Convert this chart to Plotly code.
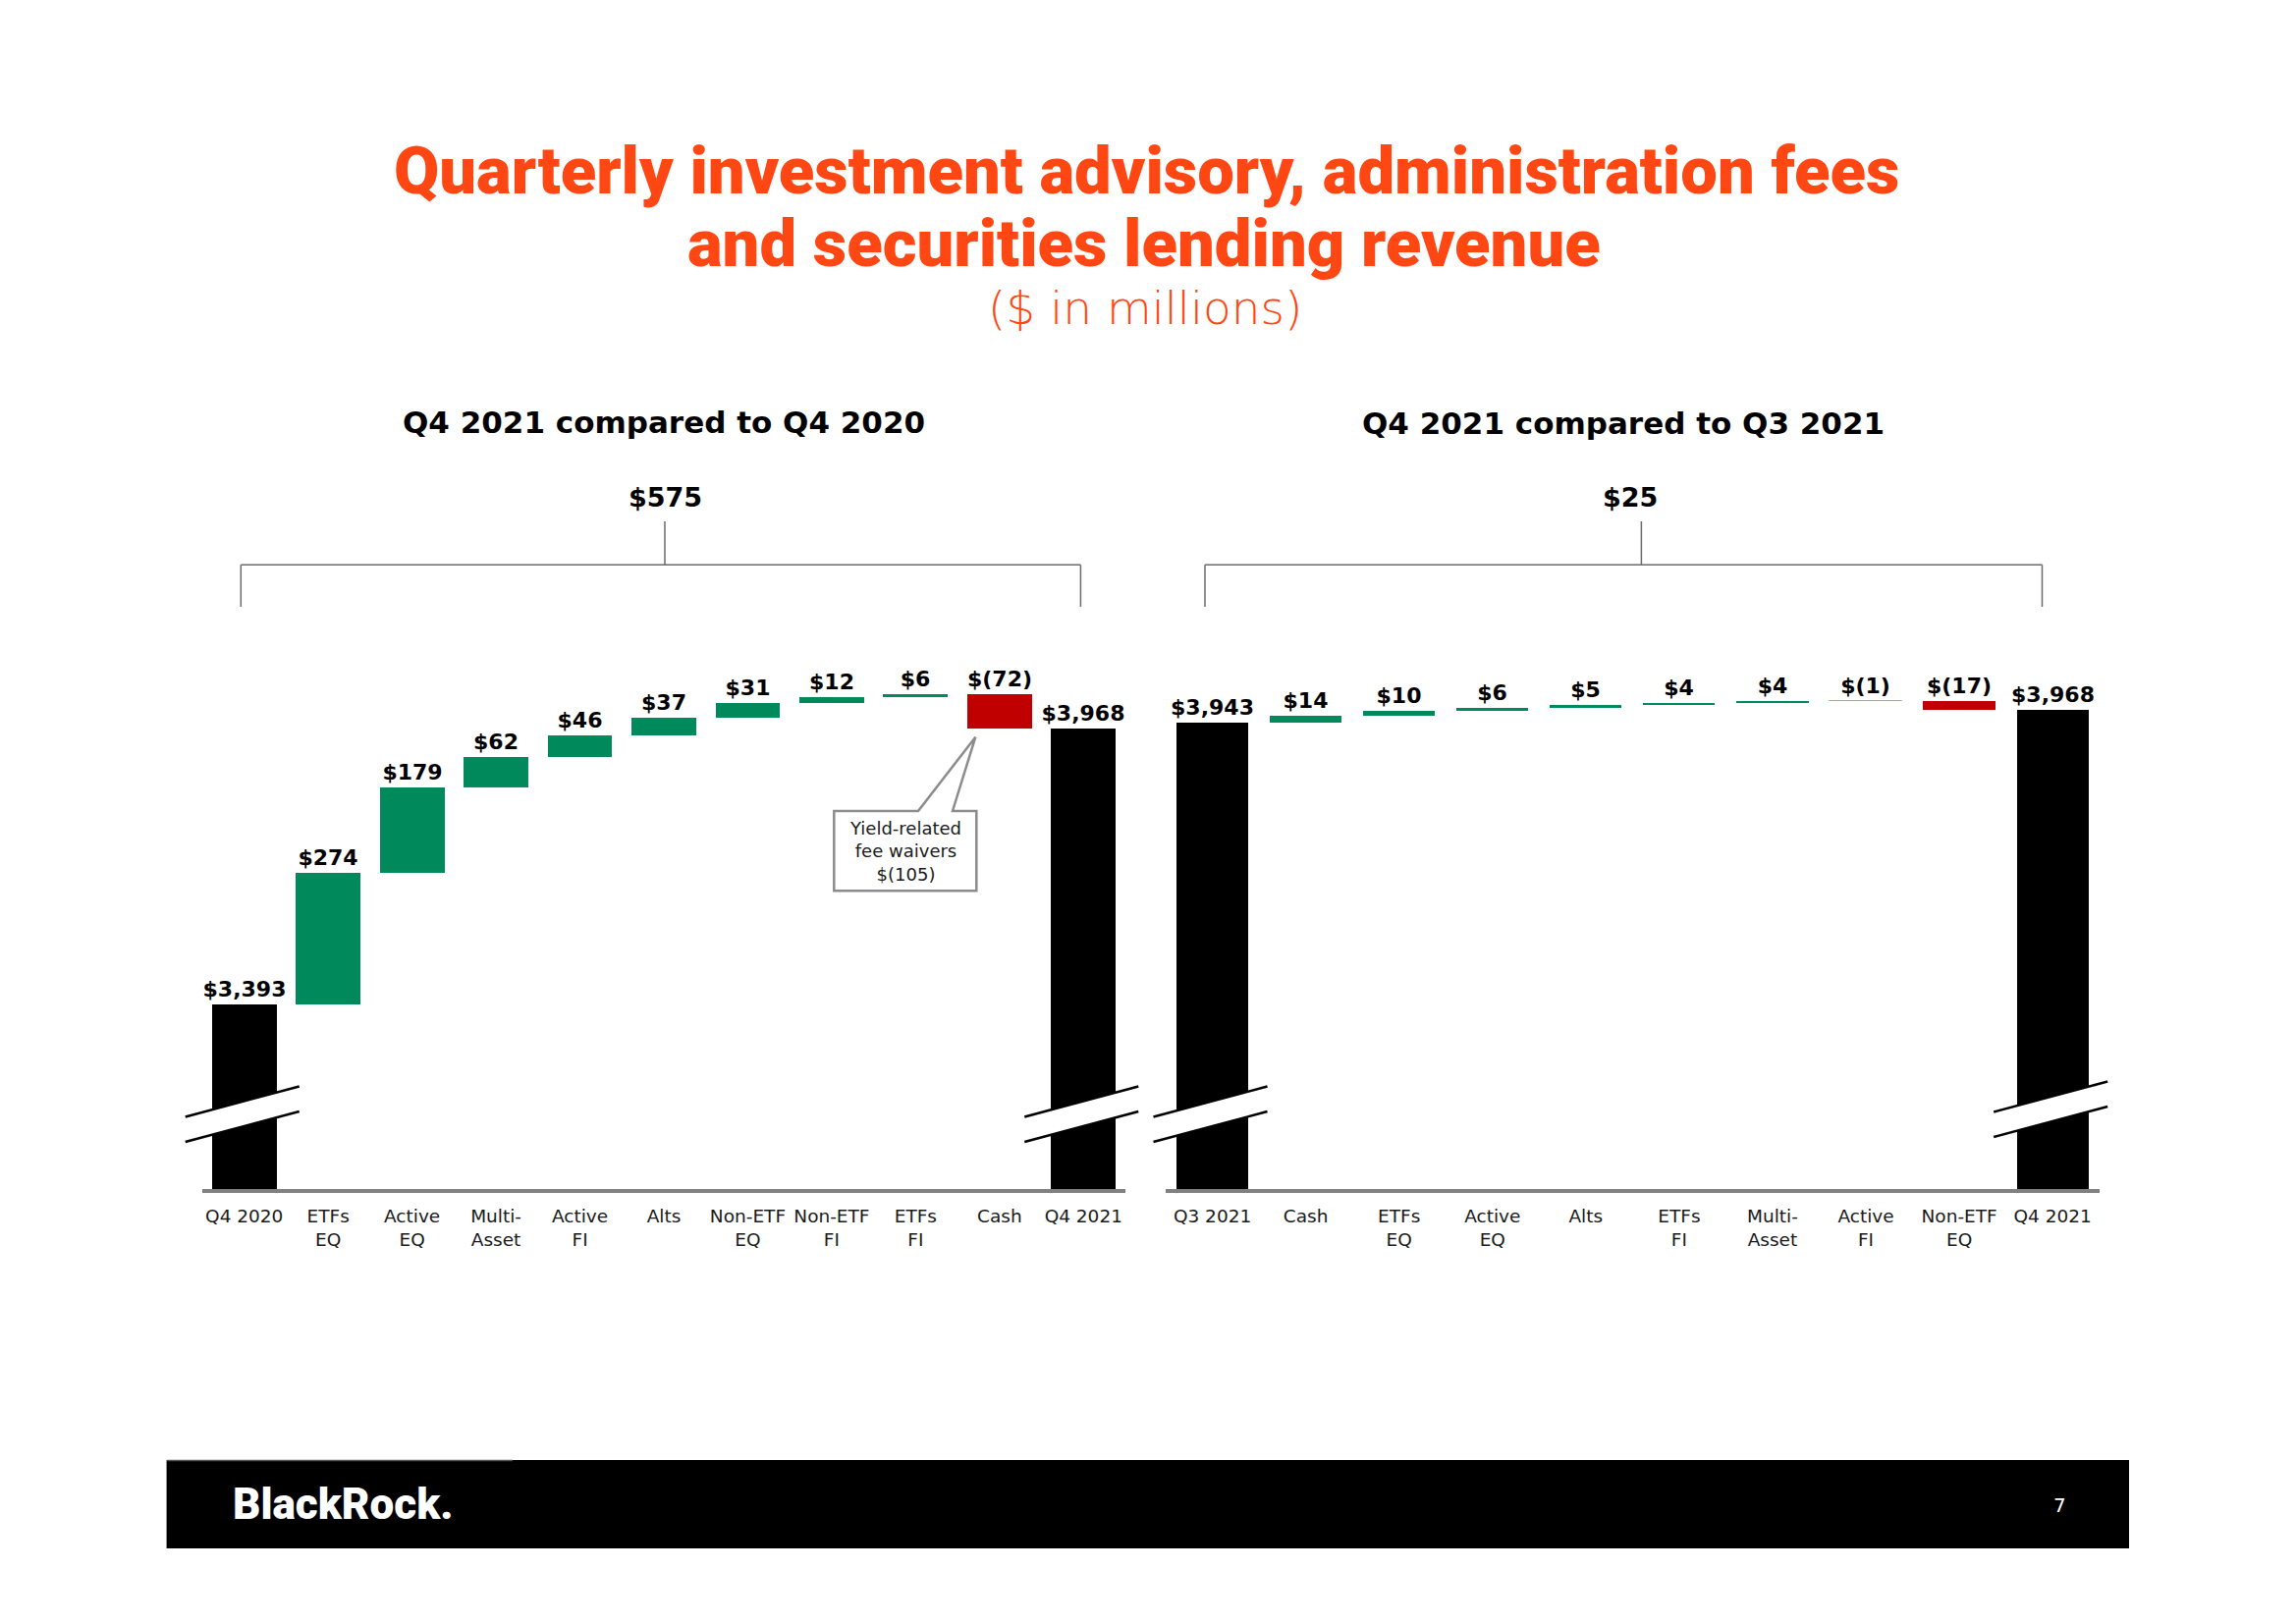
import plotly.graph_objects as go

# ---------------- data ----------------
left_categories = ["Q4 2020", "ETFs<br>EQ", "Active<br>EQ", "Multi-<br>Asset", "Active<br>FI",
                   "Alts", "Non-ETF<br>EQ", "Non-ETF<br>FI", "ETFs<br>FI", "Cash", "Q4 2021"]
left_start = 3393
left_changes = [274, 179, 62, 46, 37, 31, 12, 6, -72]
left_end = 3968

right_categories = ["Q3 2021", "Cash", "ETFs<br>EQ", "Active<br>EQ", "Alts", "ETFs<br>FI",
                    "Multi-<br>Asset", "Active<br>FI", "Non-ETF<br>EQ", "Q4 2021"]
right_start = 3943
right_changes = [14, 10, 6, 5, 4, 4, -1, -17]
right_end = 3968

yield_fee_waivers = -105

title_line1 = "Quarterly investment advisory, administration fees"
title_line2 = "and securities lending revenue"
subtitle = "($ in millions)"
left_heading = "Q4 2021 compared to Q4 2020"
right_heading = "Q4 2021 compared to Q3 2021"

# ---------------- style ----------------
W, H = 2338, 1653
ORANGE = "#FF4713"
GREEN = "#008A5C"
RED = "#C00000"
BLACK = "#000000"
GREY = "#6b6b6b"
AXIS_GREY = "#808080"
BODY = "DejaVu Sans"


def X(p):
    return p / W


def Y(p):
    return 1 - p / H


def fmt(v):
    return f"${v:,}" if v >= 0 else f"$({abs(v):,})"


def waterfall(start, changes, end):
    bases, heights, colors, texts = [0], [start], [BLACK], [fmt(start)]
    lw, lc = [0], [BLACK]
    level = start
    for c in changes:
        bases.append(level if c >= 0 else level + c)
        heights.append(abs(c))
        col = GREEN if c >= 0 else RED
        colors.append(col)
        texts.append(fmt(c))
        lw.append(1 if abs(c) <= 1 else 0)
        lc.append("#E58A8A" if c < 0 else col)
        level += c
    bases.append(0)
    heights.append(end)
    colors.append(BLACK)
    texts.append(fmt(end))
    lw.append(0)
    lc.append(BLACK)
    return bases, heights, colors, texts, lw, lc


fig = go.Figure()

for cats, start, changes, end, xa, ya in [
    (left_categories, left_start, left_changes, left_end, "x", "y"),
    (right_categories, right_start, right_changes, right_end, "x2", "y2"),
]:
    b, h, c, t, lw, lc = waterfall(start, changes, end)
    fig.add_trace(go.Bar(
        x=list(range(len(cats))), y=h, base=b,
        marker=dict(color=c, line=dict(width=lw, color=lc)),
        width=0.77,
        text=t, textposition="outside", textangle=0, constraintext="none",
        cliponaxis=False,
        textfont=dict(family=BODY, size=22, color=BLACK, weight="bold"),
        xaxis=xa, yaxis=ya, hoverinfo="skip",
    ))

# plot geometry (pixels)
PLOT_BOTTOM, PLOT_TOP = 1211, 650
L_X0, L_X1 = 206, 1146
R_X0, R_X1 = 1187, 2137.7

xaxis_common = dict(showline=True, linecolor=AXIS_GREY, linewidth=3.5, ticks="",
                    showgrid=False, zeroline=False, fixedrange=True, ticklabelstandoff=8,
                    tickfont=dict(family=BODY, size=18.5, color="#1a1a1a"))

fig.update_layout(
    width=W, height=H,
    margin=dict(l=0, r=0, t=0, b=0),
    paper_bgcolor="white", plot_bgcolor="white",
    showlegend=False,
    bargap=0,
    xaxis=dict(domain=[X(L_X0), X(L_X1)], range=[-0.5, len(left_categories) - 0.5],
               tickmode="array", tickvals=list(range(len(left_categories))),
               ticktext=left_categories, anchor="y", **xaxis_common),
    yaxis=dict(domain=[Y(PLOT_BOTTOM), Y(PLOT_TOP)], range=[3007, 4156.6], visible=False,
               fixedrange=True),
    xaxis2=dict(domain=[X(R_X0), X(R_X1)], range=[-0.5, len(right_categories) - 0.5],
                tickmode="array", tickvals=list(range(len(right_categories))),
                ticktext=right_categories, anchor="y2", **xaxis_common),
    yaxis2=dict(domain=[Y(PLOT_BOTTOM), Y(PLOT_TOP)], range=[3030, 4108.8], visible=False,
                fixedrange=True, anchor="x2"),
)

shapes = []
annotations = []


def line(x0, y0, x1, y1, color=GREY, width=1.5):
    shapes.append(dict(type="line", xref="paper", yref="paper",
                       x0=X(x0), y0=Y(y0), x1=X(x1), y1=Y(y1),
                       line=dict(color=color, width=width), layer="above"))


def path(points, fill, color, width):
    d = "M " + " L ".join(f"{X(a):.6f},{Y(b):.6f}" for a, b in points) + " Z"
    shapes.append(dict(type="path", xref="paper", yref="paper", path=d,
                       fillcolor=fill, line=dict(color=color, width=width), layer="above"))


# axis-break marks on the start/end bars
def bar_center(x0, x1, n, i):
    return x0 + (i + 0.5) * (x1 - x0) / n


def break_mark(cx, dy=0):
    a, b = cx - 60, cx + 56
    path([(a, 1137.5 + dy), (b, 1106.5 + dy), (b, 1132 + dy), (a, 1163 + dy)], "white", "white", 0)
    line(a, 1137.5 + dy, b, 1106.5 + dy, BLACK, 2.5)
    line(a, 1163 + dy, b, 1132 + dy, BLACK, 2.5)


nl, nr = len(left_categories), len(right_categories)
break_mark(bar_center(L_X0, L_X1, nl, 0))
break_mark(bar_center(L_X0, L_X1, nl, nl - 1))
break_mark(bar_center(R_X0, R_X1, nr, 0))
break_mark(bar_center(R_X0, R_X1, nr, nr - 1), dy=-5)

# brackets
for xl, xr, xc in [(245.3, 1100.4, 677), (1227, 2079.5, 1671.4)]:
    line(xl, 575.3, xr, 575.3)
    line(xl, 575.3, xl, 618)
    line(xr, 575.3, xr, 618)
    line(xc, 531, xc, 575.3)

# callout for cash fee waivers
path([(849.3, 826), (935, 826), (993.3, 750.7), (970, 826), (994.3, 826),
      (994.3, 907.3), (849.3, 907.3)], "white", "#8c8c8c", 2.5)
annotations.append(dict(xref="paper", yref="paper", x=X(921.8), y=Y(867), showarrow=False,
                        text=f"Yield-related<br>fee waivers<br>{fmt(yield_fee_waivers)}",
                        font=dict(family=BODY, size=18, color="#1a1a1a"),
                        xanchor="center", yanchor="middle", align="center"))

# footer
shapes.append(dict(type="rect", xref="paper", yref="paper", x0=X(169.6), x1=X(2168),
                   y0=Y(1577), y1=Y(1487), fillcolor=BLACK, line=dict(width=0), layer="above"))
line(170, 1487.5, 522, 1487.5, "#555555", 1.5)
annotations.append(dict(xref="paper", yref="paper", x=X(235), y=Y(1531.5), showarrow=False,
                        text="BlackRock.", xanchor="left", yanchor="middle",
                        font=dict(family="Roboto", size=44, color="white", weight=900)))
annotations.append(dict(xref="paper", yref="paper", x=X(2097), y=Y(1533), showarrow=False,
                        text="7", xanchor="center", yanchor="middle",
                        font=dict(family=BODY, size=20, color="white")))

# titles
annotations += [
    dict(xref="paper", yref="paper", x=X(1167), y=Y(174), showarrow=False, text=title_line1,
         xanchor="center", yanchor="middle",
         font=dict(family="Roboto", size=67, color=ORANGE, weight=900)),
    dict(xref="paper", yref="paper", x=X(1165), y=Y(248), showarrow=False, text=title_line2,
         xanchor="center", yanchor="middle",
         font=dict(family="Roboto", size=67, color=ORANGE, weight=900)),
    dict(xref="paper", yref="paper", x=X(1165.5), y=Y(314), showarrow=False, text=subtitle,
         xanchor="center", yanchor="middle",
         font=dict(family=BODY, size=47, color=ORANGE, weight=300)),
    dict(xref="paper", yref="paper", x=X(676.4), y=Y(429.5), showarrow=False, text=left_heading,
         xanchor="center", yanchor="middle",
         font=dict(family=BODY, size=31, color=BLACK, weight="bold")),
    dict(xref="paper", yref="paper", x=X(1652.6), y=Y(431), showarrow=False, text=right_heading,
         xanchor="center", yanchor="middle",
         font=dict(family=BODY, size=31, color=BLACK, weight="bold")),
    dict(xref="paper", yref="paper", x=X(677.7), y=Y(507), showarrow=False,
         text=fmt(left_end - left_start), xanchor="center", yanchor="middle",
         font=dict(family=BODY, size=27, color=BLACK, weight="bold")),
    dict(xref="paper", yref="paper", x=X(1659.8), y=Y(507), showarrow=False,
         text=fmt(right_end - right_start), xanchor="center", yanchor="middle",
         font=dict(family=BODY, size=27, color=BLACK, weight="bold")),
]

fig.update_layout(shapes=shapes, annotations=annotations)
fig.write_html("out.html")
